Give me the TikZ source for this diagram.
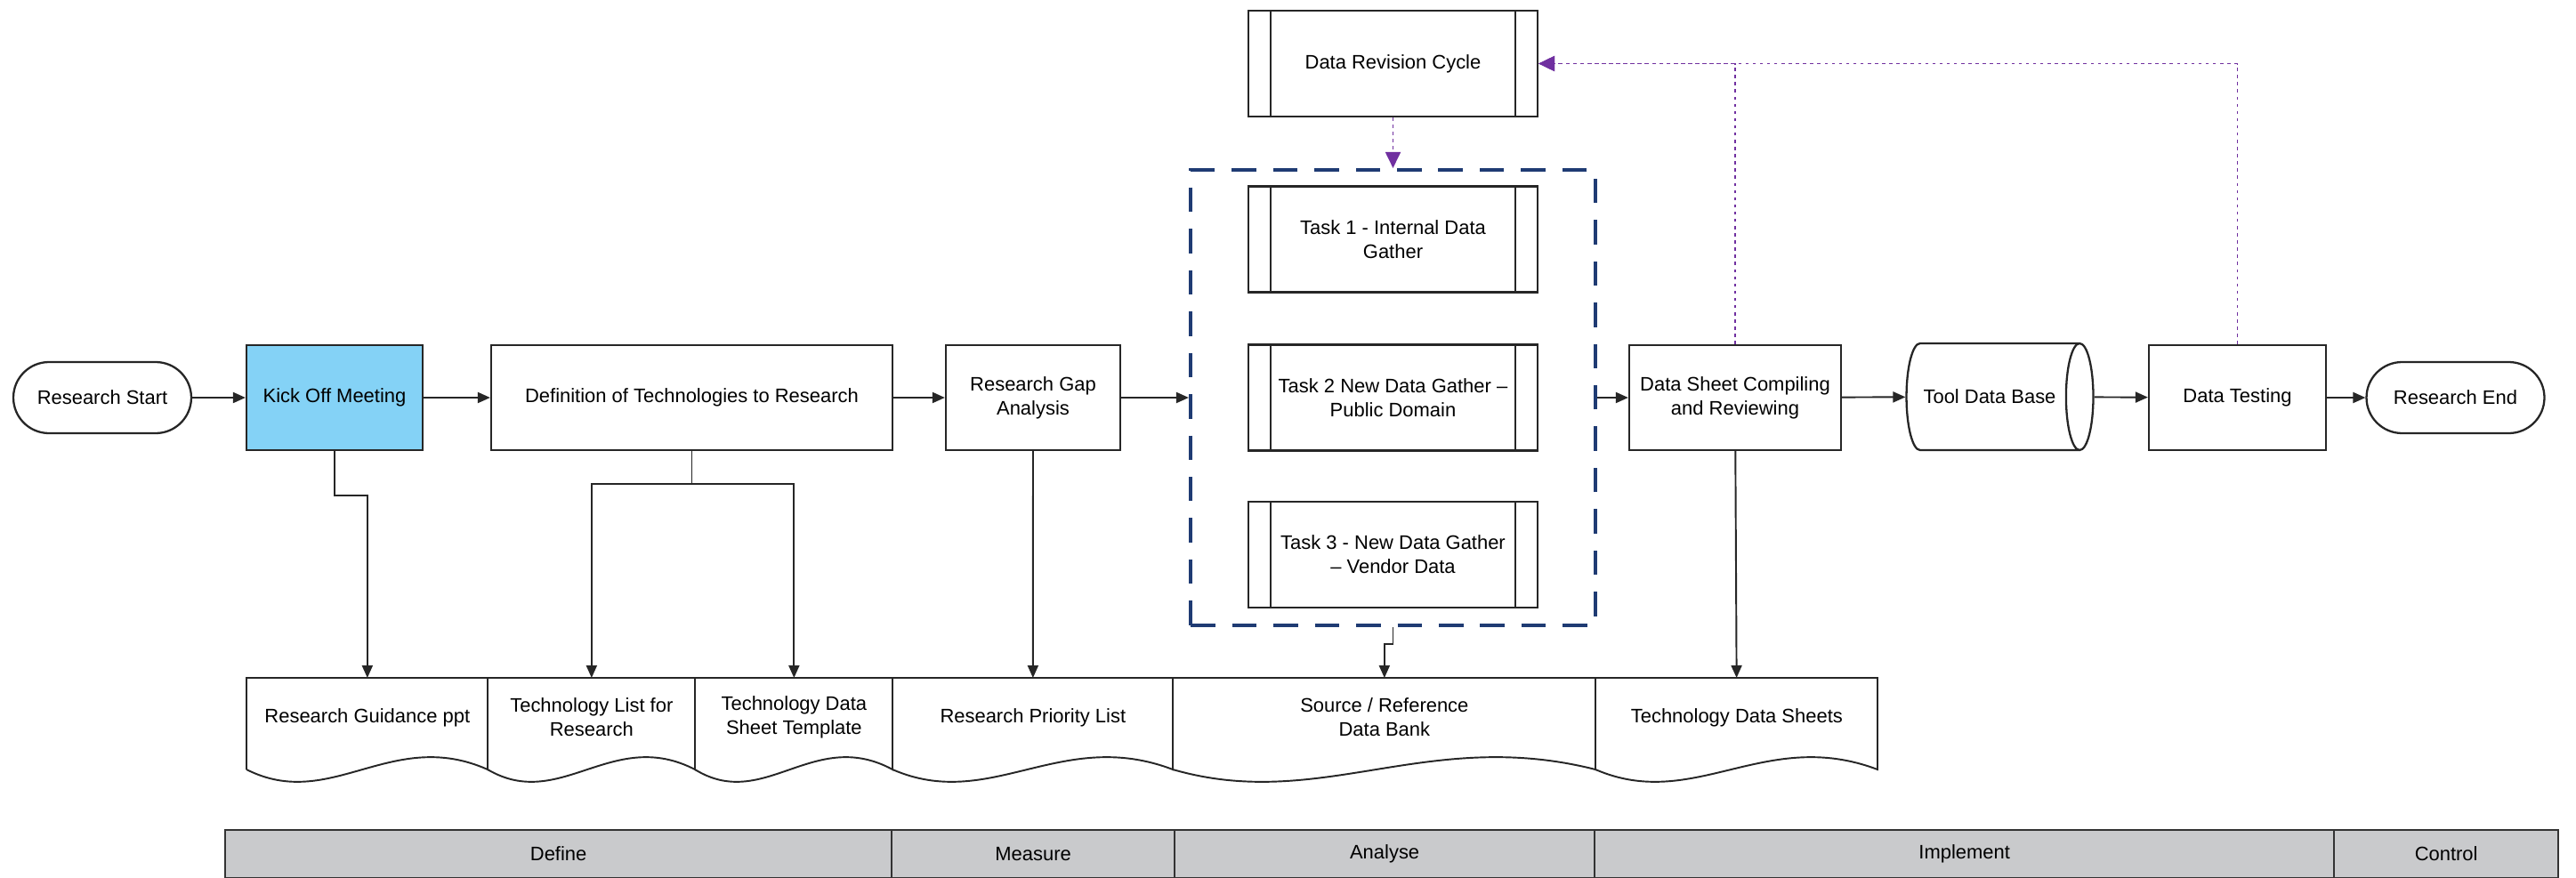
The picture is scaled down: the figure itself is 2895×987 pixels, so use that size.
\documentclass[tikz,border=0pt]{standalone}
\usepackage{fontspec}
\setmainfont{Liberation Sans}
\usetikzlibrary{arrows.meta,calc,shapes.geometric}
\definecolor{kickblue}{HTML}{84D2F6}
\definecolor{groupnavy}{HTML}{1F3B73}
\definecolor{cyclepurple}{HTML}{7030A0}
\definecolor{phasegray}{HTML}{C9CACC}

% document shape: name, left, right, label
\newcommand{\docshape}[4]{%
  \node[docbox, minimum width={(#3-#2)*0.02cm}, anchor=north west] (#1) at (#2,762) {#4};
  \draw[docline] (#2,865) -- (#2,762) -- (#3,762) -- (#3,865)
    .. controls ($(#2,865)!0.6!(#3,865)+(0,-48)$) and ($(#2,865)!0.35!(#3,865)+(0,48)$) .. (#2,865);
}

\begin{document}
\begin{tikzpicture}
    [x=0.02cm, y=-0.02cm,
     >={Triangle[length=0.28cm, width=0.24cm]},  % black flow tips
     font=\fontsize{12.5}{15.3}\selectfont,
     box/.style={rectangle, draw=black!85, line width=1.3pt, minimum height=2.36cm, align=center},
     terminal/.style={rectangle, draw=black!85, line width=1.3pt, rounded corners=0.8cm, minimum width=4cm, minimum height=1.6cm},
     predef/.style={box, minimum width=6.5cm, minimum height=2.38cm,
       path picture={\draw[line width=1.3pt]
         ([xshift=0.5cm]path picture bounding box.north west) -- ([xshift=0.5cm]path picture bounding box.south west)
         ([xshift=-0.5cm]path picture bounding box.north east) -- ([xshift=-0.5cm]path picture bounding box.south east);}},
     groupbox/.style={rectangle, draw=groupnavy, line width=2.4pt, dash pattern=on 0.55cm off 0.38cm, minimum width=9.1cm, minimum height=10.24cm},
     docbox/.style={rectangle, minimum height=1.76cm, align=center, inner sep=2pt},
     docline/.style={draw=black!85, line width=1.1pt},
     phase/.style={rectangle, fill=phasegray, draw=black!80, line width=1.3pt, minimum height=1.08cm, anchor=north west},
     flow/.style={->, draw=black!85, line width=1.1pt},
     loopback/.style={-{Triangle[length=0.36cm, width=0.34cm]}, draw=cyclepurple, line width=1.1pt, dash pattern=on 2pt off 2.6pt},
    ]
\useasboundingbox[fill=white] (0,0) rectangle (2895,987);

% main row
\node[terminal] (start) at (115,447) {Research Start};
\node[box, fill=kickblue, minimum width=3.96cm] (kick) at (376,447) {Kick Off Meeting};
\node[box, minimum width=9.02cm] (defn) at (777.5,447) {Definition of Technologies to Research};
\node[box, minimum width=3.92cm] (gap) at (1161,447) {Research Gap\\Analysis};
\node[groupbox] (tasks) at (1565.5,447) {};
\node[predef] (revision) at (1565.5,71.5) {Data Revision Cycle};
\node[predef] (taskone) at (1565.5,269) {Task 1 - Internal Data\\Gather};
\node[predef] (tasktwo) at (1565.5,447) {Task 2 New Data Gather –\\Public Domain};
\node[predef] (taskthree) at (1565.5,623.5) {Task 3 - New Data Gather\\– Vendor Data};
\node[box, minimum width=4.76cm] (sheet) at (1950,447) {Data Sheet Compiling\\and Reviewing};
\node[cylinder, draw=black!85, line width=1.3pt, shape border rotate=0, aspect=1.1, minimum height=4.2cm, minimum width=2.4cm] (tooldb) at (2236,446) {Tool Data Base};
\node[box, minimum width=3.98cm] (testing) at (2514.5,447) {Data Testing};
\node[terminal] (finish) at (2759.5,447) {Research End};

% outputs
\docshape{guide}{277}{548}{Research Guidance ppt}
\docshape{techlist}{548}{781}{Technology List for\\Research}
\docshape{template}{781}{1003}{Technology Data\\Sheet Template}
\docshape{priority}{1003}{1318}{Research Priority List}
\docshape{databank}{1318}{1793}{Source / Reference\\Data Bank}
\docshape{sheets}{1793}{2110}{Technology Data Sheets}

% phases
\foreach \l/\r/\name in {252/1001/Define, 1001/1319/Measure, 1319/1791/Analyse, 1791/2622/Implement, 2622/2874/Control}
  \node[phase, minimum width={(\r-\l)*0.02cm}] (\name) at (\l,932) {\name};

% flow
\draw[flow] (start) -- (kick);
\draw[flow] (kick) -- (defn);
\draw[flow] (defn) -- (gap);
\draw[flow] (gap) -- (tasks);
\draw[flow] (tasks) -- (sheet);
\draw[flow] (sheet) -- (tooldb);
\draw[flow] (tooldb) -- (testing);
\draw[flow] (testing) -- (finish);

\draw[flow] (kick.south) -- ++(0,50) -| (guide.north);
\draw[flow] (defn.south) -- ++(0,37) -| (techlist.north);
\draw[flow] (defn.south) -- ++(0,37) -| (template.north);
\draw[flow] (gap) -- (priority);
\draw[flow] (tasks.south) -- ++(0,19) -| (databank.north);
\draw[flow] (sheet) -- (sheets);

% revision loop
\draw[loopback] (sheet.north) |- (revision.east);
\draw[loopback] (testing.north) |- (revision.east);
\draw[loopback] (revision) -- (tasks);

\end{tikzpicture}
\end{document}
